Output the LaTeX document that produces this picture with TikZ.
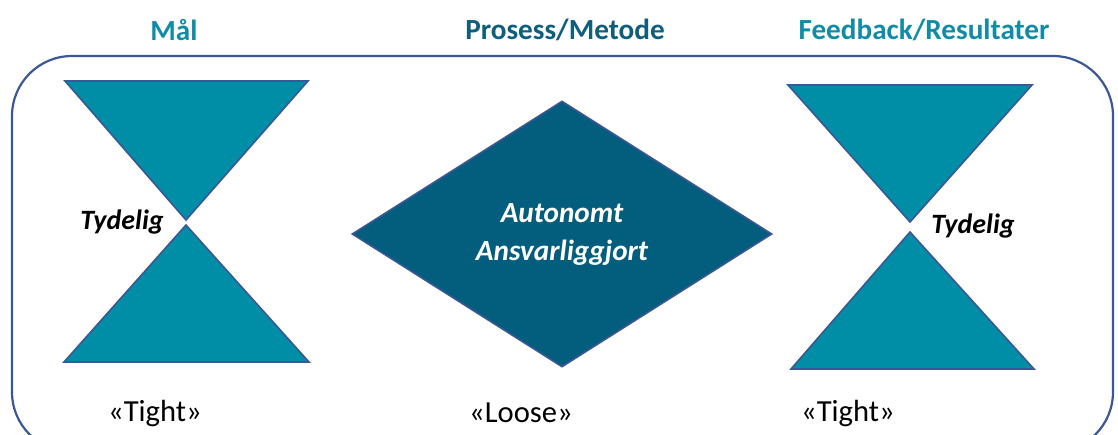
\documentclass[tikz,border=0pt]{standalone}
\usepackage{fontspec}
\setmainfont{Carlito}
\usetikzlibrary{shapes.geometric,positioning}
\definecolor{frameblue}{RGB}{59,87,150}
\definecolor{tealfill}{RGB}{0,142,166}
\definecolor{deepteal}{RGB}{3,93,125}
\definecolor{titleteal}{RGB}{16,140,166}
\definecolor{titledark}{RGB}{14,94,126}
\tikzset{
	frame/.style = {draw=frameblue, line width=1.1pt, rounded corners=30pt},
	funnel/.style = {draw=frameblue, line width=0.8pt, fill=tealfill},
	title/.style = {font=\fontsize{14.6}{17}\selectfont\bfseries},
	clear/.style = {font=\fontsize{14}{16}\selectfont\bfseries\itshape},
	caption/.style = {font=\fontsize{15.3}{17}\selectfont},
	process/.style = {diamond, draw=frameblue, line width=0.8pt, fill=deepteal, text=white, align=center,
		minimum width=210pt, minimum height=133pt, inner sep=0pt,
		font=\fontsize{14.6}{19}\selectfont\bfseries\itshape}
}
\begin{document}
\begin{tikzpicture}[x=0.5pt, y=-0.5pt]
	\useasboundingbox (0,0) rectangle (1118,434);
	\clip (0,0) rectangle (1118,434);
	\draw [frame] (12,56) rectangle (1113,452);
	% titles
	\node (maal) [title, text=titleteal] at (174,30) {Mål};
	\node (prosess) [title, text=titledark] at (565,30) {Prosess/Metode};
	\node (feedback) [title, text=titleteal] at (924,30) {Feedback/Resultater};
	% left hourglass
	\draw [funnel] (65,81) -- (308,81) -- (186,220) -- cycle;
	\draw [funnel] (186,225) -- (309,362) -- (64,362) -- cycle;
	\node (tydeligL) [clear] at (122,222) {Tydelig};
	% diamond
	\node (mid) [process] at (562,234) {Autonomt\\Ansvarliggjort};
	% right hourglass
	\draw [funnel] (788,85) -- (1032,85) -- (910,222) -- cycle;
	\draw [funnel] (910,232) -- (1034,369) -- (791,369) -- cycle;
	\node (tydeligR) [clear] at (973,226) {Tydelig};
	% bottom labels
	\node (tightL) [caption] at (155,413) {«Tight»};
	\node (loose) [caption] at (521,413) {«Loose»};
	\node (tightR) [caption] at (848,413) {«Tight»};
\end{tikzpicture}
\end{document}
